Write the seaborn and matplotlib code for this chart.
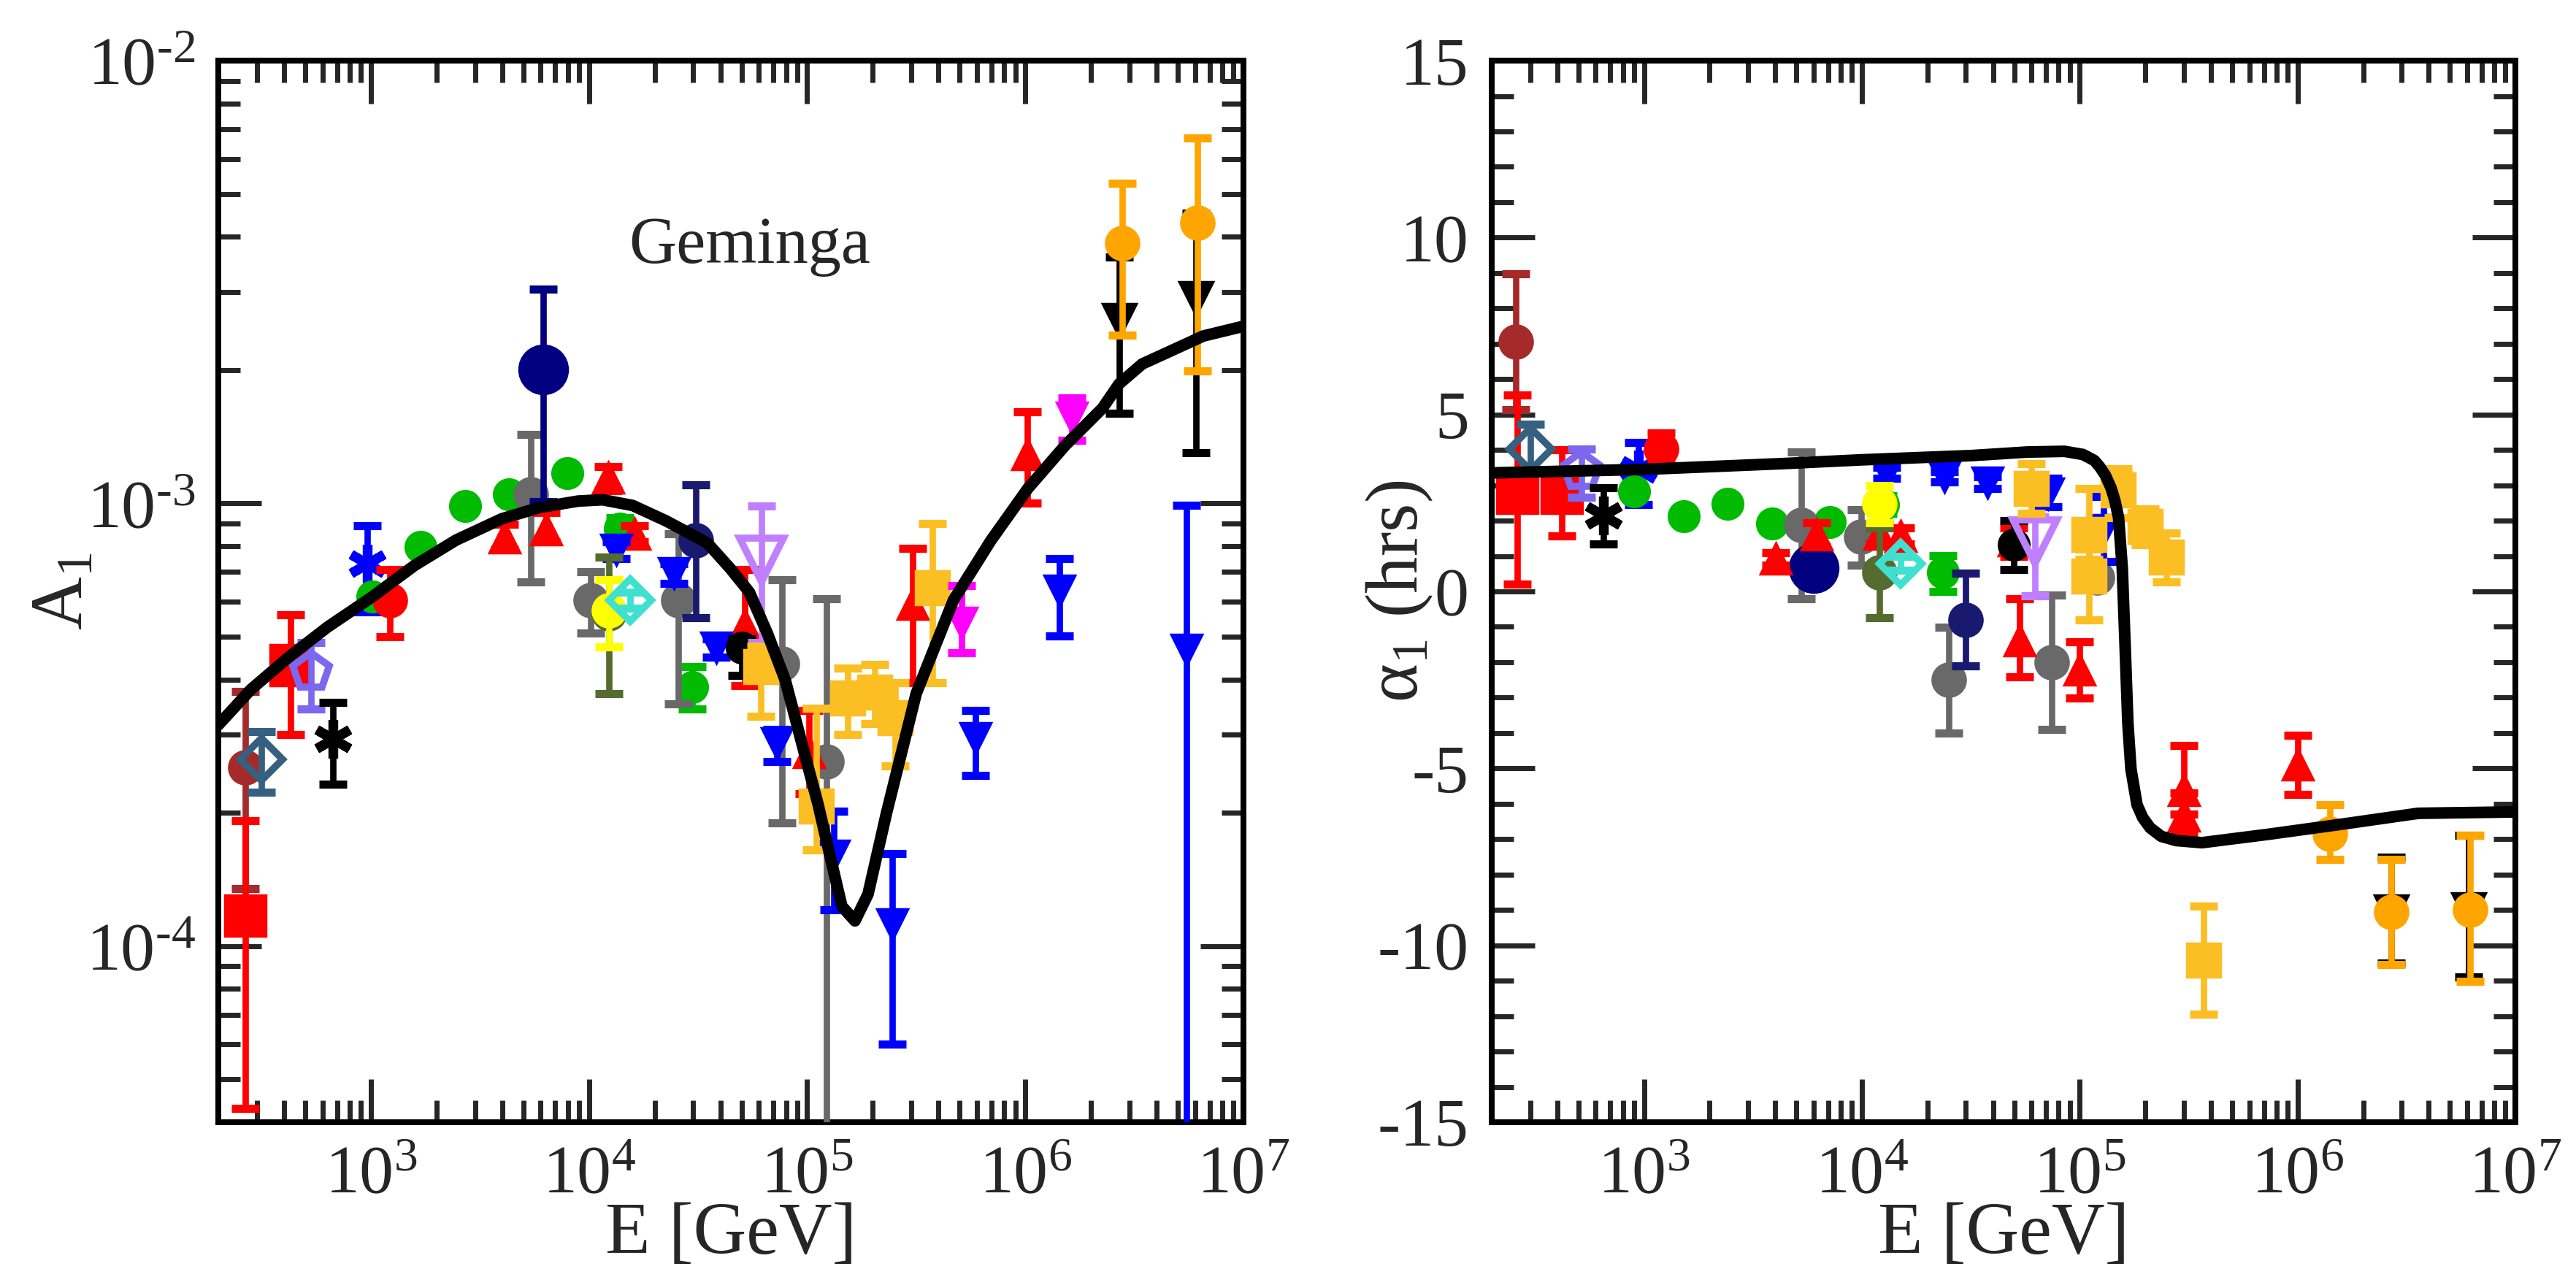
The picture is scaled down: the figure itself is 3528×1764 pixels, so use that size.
import numpy as np
import matplotlib
matplotlib.use('Agg')
import matplotlib.pyplot as plt
import seaborn as sns
from matplotlib.ticker import LogLocator, FuncFormatter, MultipleLocator, NullFormatter

# ---------------- model curves ----------------
curveA_E = [200, 282, 419, 631, 1014, 1585, 2455, 3981, 5943, 8913, 11530, 15850,
            22440, 28180, 34910, 44360, 54330, 65770, 79430, 97270, 112200, 123300,
            144200, 165600, 190100, 231200, 316200, 468800, 695000, 1.028e6, 1.524e6,
            2.259e6, 2.692e6, 3.436e6, 4.446e6, 6.546e6, 1e7]
curveA = [3.16e-4, 3.80e-4, 4.49e-4, 5.25e-4, 6.15e-4, 7.24e-4, 8.26e-4, 9.23e-4,
          9.79e-4, 1.012e-3, 1.019e-3, 9.89e-4, 9.14e-4, 8.61e-4, 8.13e-4, 7.13e-4,
          6.30e-4, 5.08e-4, 3.98e-4, 2.72e-4, 2.09e-4, 1.71e-4, 1.23e-4, 1.14e-4,
          1.31e-4, 2.00e-4, 3.72e-4, 6.05e-4, 8.24e-4, 1.081e-3, 1.352e-3, 1.641e-3,
          1.862e-3, 2.065e-3, 2.188e-3, 2.388e-3, 2.512e-3]

curveP_E = [200, 1000, 4227, 10000, 31840, 57410, 85110, 103500, 116700, 123600,
            131200, 139300, 144900, 150700, 156700, 161100, 166300, 171800, 183200,
            194500, 210400, 236600, 277300, 363900, 739600, 1.626e6, 3.573e6, 1e7]
curveP = [3.35, 3.45, 3.61, 3.72, 3.84, 3.94, 3.96, 3.87, 3.70, 3.52, 3.28, 2.92,
          2.57, 2.09, 0.67, -1.35, -3.72, -5.02, -6.03, -6.39, -6.68, -6.92, -7.04,
          -7.10, -6.86, -6.57, -6.27, -6.23]

# ---------------- data, left panel: A1 (value, lower end, upper end) ----------------
brownA_E, brownA, brownA_lo, brownA_hi = [265], [2.53e-4], [1.35e-4], [3.76e-4]
redsqA_E = [265, 428]
redsqA = [1.17e-4, 4.31e-4]
redsqA_lo = [4.3e-5, 3.0e-4]
redsqA_hi = [1.92e-4, 5.6e-4]
steelA_E, steelA, steelA_lo, steelA_hi = [314], [2.64e-4], [2.23e-4], [3.05e-4]
pentA_E, pentA, pentA_lo, pentA_hi = [532], [4.16e-4], [3.43e-4], [4.84e-4]
kastA_E, kastA, kastA_lo, kastA_hi = [670], [2.94e-4], [2.32e-4], [3.55e-4]
bastA_E, bastA, bastA_lo, bastA_hi = [964], [7.32e-4], [5.69e-4], [8.9e-4]
redcA_E, redcA, redcA_lo, redcA_hi = [1225], [6.05e-4], [5.0e-4], [7.1e-4]
greenA_E = [1014, 1686, 2704, 4303, 7960, 13870, 29650]
greenA = [6.15e-4, 7.96e-4, 9.87e-4, 1.047e-3, 1.17e-3, 8.77e-4, 3.84e-4]
greenA_lo = [6.15e-4, 7.96e-4, 9.87e-4, 1.047e-3, 1.17e-3, 8.2e-4, 3.43e-4]
greenA_hi = [6.15e-4, 7.96e-4, 9.87e-4, 1.047e-3, 1.17e-3, 9.3e-4, 4.27e-4]
redtriA_E = [4085, 6350, 12270, 16100, 51900, 102000, 305000, 1.02e6]
redtriA = [8.37e-4, 8.73e-4, 1.145e-3, 8.55e-4, 5.32e-4, 2.74e-4, 5.93e-4, 1.29e-3]
redtriA_lo = [7.85e-4, 8.18e-4, 1.067e-3, 8.2e-4, 3.88e-4, 2.21e-4, 3.94e-4, 1.0e-3]
redtriA_hi = [8.96e-4, 9.55e-4, 1.21e-3, 8.9e-4, 7.1e-4, 3.41e-4, 7.92e-4, 1.61e-3]
bluetriA_E = [13300, 24500, 38400, 72400, 133000, 245000, 589000, 1.43e6, 5.5e6]
bluetriA = [7.85e-4, 6.95e-4, 4.72e-4, 2.87e-4, 1.60e-4, 1.12e-4, 2.95e-4, 6.35e-4, 4.66e-4]
bluetriA_lo = [7.5e-4, 6.6e-4, 4.5e-4, 2.61e-4, 1.21e-4, 6.0e-5, 2.43e-4, 5.02e-4, 1e-5]
bluetriA_hi = [8.2e-4, 7.3e-4, 4.95e-4, 3.09e-4, 2.02e-4, 1.62e-4, 3.41e-4, 7.5e-4, 9.9e-4]
navyA_E, navyA, navyA_lo, navyA_hi = [6150], [2.01e-3], [1.01e-3], [3.05e-3]
grayA_E = [5400, 10190, 25600, 76700, 123000]
grayA = [1.05e-3, 6.05e-4, 6.05e-4, 4.34e-4, 2.61e-4]
grayA_lo = [6.65e-4, 5.09e-4, 3.53e-4, 1.9e-4, 1e-5]
grayA_hi = [1.43e-3, 7.0e-4, 8.55e-4, 6.73e-4, 6.1e-4]
oliveA_E, oliveA, oliveA_lo, oliveA_hi = [12330], [5.64e-4], [3.72e-4], [7.57e-4]
yellowA_E, yellowA, yellowA_lo, yellowA_hi = [12330], [5.74e-4], [4.74e-4], [6.73e-4]
turqA_E, turqA, turqA_lo, turqA_hi = [15400], [6.05e-4], [5.8e-4], [6.3e-4]
midA_E, midA, midA_lo, midA_hi = [30800], [8.26e-4], [5.52e-4], [1.1e-3]
lilacA_E, lilacA, lilacA_lo, lilacA_hi = [62000], [7.46e-4], [4.84e-4], [9.87e-4]
blkcA_E, blkcA, blkcA_lo, blkcA_hi = [50300], [4.72e-4], [4.08e-4], [4.94e-4]
goldA_E = [61400, 110000, 153600, 204000, 253000, 376000]
goldA = [4.27e-4, 2.07e-4, 3.63e-4, 3.75e-4, 3.28e-4, 6.44e-4]
goldA_lo = [3.31e-4, 1.65e-4, 3.0e-4, 3.18e-4, 2.55e-4, 3.94e-4]
goldA_hi = [4.76e-4, 3.45e-4, 4.25e-4, 4.33e-4, 3.94e-4, 9.0e-4]
magA_E = [512000, 1.63e6]
magA = [5.38e-4, 1.56e-3]
magA_lo = [4.6e-4, 1.39e-3]
magA_hi = [6.53e-4, 1.73e-3]
orangeA_E = [2.78e6, 6.17e6]
orangeA = [3.87e-3, 4.30e-3]
orangeA_lo = [2.40e-3, 1.99e-3]
orangeA_hi = [5.28e-3, 6.68e-3]
blktriA_E = [2.70e6, 6.08e6]
blktriA = [2.59e-3, 2.9e-3]
blktriA_lo = [1.6e-3, 1.3e-3]
blktriA_hi = [3.6e-3, 4.53e-3]

# ---------------- data, right panel: alpha1 in hrs ----------------
brownP_E, brownP, brownP_lo, brownP_hi = [257], [7.06], [5.14], [8.98]
redsqP_E = [261, 420]
redsqP = [2.79, 2.79]
redsqP_lo = [0.21, 1.56]
redsqP_hi = [5.56, 4.01]
steelP_E, steelP, steelP_lo, steelP_hi = [301], [4.03], [3.4], [4.72]
pentP_E, pentP, pentP_lo, pentP_hi = [515], [3.40], [2.66], [4.03]
kastP_E, kastP, kastP_lo, kastP_hi = [652], [2.14], [1.35], [2.93]
bastP_E, bastP, bastP_lo, bastP_hi = [941], [3.45], [2.45], [4.22]
redcP_E, redcP, redcP_lo, redcP_hi = [1200], [4.03], [3.6], [4.48]
greenP_E = [901, 1520, 2410, 3865, 7130, 12470, 23500]
greenP = [2.82, 2.12, 2.47, 1.91, 1.96, 2.45, 0.53]
greenP_lo = [2.82, 2.12, 2.47, 1.91, 1.96, 2.2, 0.0]
greenP_hi = [2.82, 2.12, 2.47, 1.91, 1.96, 2.7, 1.01]
redtriP_E = [4018, 6210, 11990, 15000, 49800, 53000, 100000, 300000, 300000, 1e6]
redtriP = [0.93, 1.61, 1.64, 1.56, 1.44, -1.39, -2.21, -5.62, -6.33, -4.9]
redtriP_lo = [0.75, 1.25, 1.35, 1.35, 1.0, -2.41, -3.01, -6.3, -6.92, -5.74]
redtriP_hi = [1.1, 1.95, 1.9, 1.8, 1.8, -0.2, -1.43, -4.35, -5.7, -4.07]
bluetriP_E = [12980, 24000, 37800, 71300, 129000]
bluetriP = [3.35, 3.24, 3.08, 2.77, 1.74]
bluetriP_lo = [3.2, 3.1, 2.92, 2.39, 0.85]
bluetriP_hi = [3.5, 3.38, 3.24, 3.19, 2.69]
navyP_E, navyP, navyP_lo, navyP_hi = [6030], [0.66], [0.55], [0.77]
grayP_E = [5280, 9930, 25000, 74600, 120000]
grayP = [1.87, 1.54, -2.49, -2.0, 0.40]
grayP_lo = [-0.2, 0.75, -4.0, -3.9, 0.40]
grayP_hi = [3.95, 2.32, -1.02, -0.1, 0.40]
oliveP_E, oliveP, oliveP_lo, oliveP_hi = [11990], [0.53], [-0.74], [1.8]
yellowP_E, yellowP, yellowP_lo, yellowP_hi = [11990], [2.47], [1.95], [3.0]
turqP_E, turqP, turqP_lo, turqP_hi = [15000], [0.79], [0.6], [1.0]
midP_E, midP, midP_lo, midP_hi = [30000], [-0.81], [-2.11], [0.51]
lilacP_E, lilacP, lilacP_lo, lilacP_hi = [62500], [1.4], [-0.13], [2.1]
blkcP_E, blkcP, blkcP_lo, blkcP_hi = [49800], [1.32], [0.61], [2.0]
goldP_E = [59700, 110000, 110000, 150600, 200000, 249000, 371000]
goldP = [2.92, 1.62, 0.43, 2.86, 1.83, 0.97, -10.42]
goldP_lo = [2.21, 0.9, -0.81, 2.09, 1.32, 0.26, -11.94]
goldP_hi = [3.61, 2.9, 1.2, 3.46, 2.33, 1.65, -8.9]
orangeP_E = [1.41e6, 2.69e6, 6.2e6]
orangeP = [-6.86, -9.06, -9.0]
orangeP_lo = [-7.57, -10.54, -11.01]
orangeP_hi = [-6.03, -7.57, -6.89]
blktriP_E = [2.69e6, 6.1e6]
blktriP = [-9.06, -9.0]
blktriP_lo = [-10.5, -10.9]
blktriP_hi = [-7.5, -6.9]

# ---------------- style ----------------
sns.set_style('ticks')
plt.rcParams['font.family'] = ['Liberation Serif', 'DejaVu Serif']
plt.rcParams['mathtext.fontset'] = 'custom'
plt.rcParams['mathtext.rm'] = 'Liberation Serif'
plt.rcParams['mathtext.it'] = 'Liberation Serif:italic'
plt.rcParams['axes.unicode_minus'] = False

# name: (marker, color, size, open)
styles = {
    'blktri': ('v', 'black', 13, False),
    'orange': ('o', '#FFA500', 13, False),
    'brown': ('o', '#A52A2A', 13, False),
    'redsq': ('s', '#FF0000', 16, False),
    'steel': ('D', '#35607F', 12, True),
    'pent': ('p', '#7B68EE', 15, True),
    'kast': ((6, 2, 0), 'black', 15, False),
    'bast': ((6, 2, 0), '#0000FF', 15, False),
    'green': ('o', '#00BB00', 12, False),
    'redc': ('o', '#FF0000', 13, False),
    'gray': ('o', '#696969', 13, False),
    'navy': ('o', '#000080', 19, False),
    'redtri': ('^', '#FF0000', 12, False),
    'bluetri': ('v', '#0000FF', 12, False),
    'olive': ('o', '#556B2F', 13, False),
    'yellow': ('o', '#FFFF00', 13, False),
    'turq': ('D', '#40E0D0', 12, True),
    'mid': ('o', '#191970', 13, False),
    'blkc': ('o', 'black', 12, False),
    'lilac': ('v', '#BF80FF', 17, True),
    'gold': ('s', '#FBBF24', 13, False),
    'mag': ('v', '#FF00FF', 12, False),
}

left_sets = [
    ('blktri', blktriA_E, blktriA, blktriA_lo, blktriA_hi),
    ('orange', orangeA_E, orangeA, orangeA_lo, orangeA_hi),
    ('brown', brownA_E, brownA, brownA_lo, brownA_hi),
    ('redsq', redsqA_E, redsqA, redsqA_lo, redsqA_hi),
    ('steel', steelA_E, steelA, steelA_lo, steelA_hi),
    ('pent', pentA_E, pentA, pentA_lo, pentA_hi),
    ('kast', kastA_E, kastA, kastA_lo, kastA_hi),
    ('bast', bastA_E, bastA, bastA_lo, bastA_hi),
    ('green', greenA_E, greenA, greenA_lo, greenA_hi),
    ('redc', redcA_E, redcA, redcA_lo, redcA_hi),
    ('gray', grayA_E, grayA, grayA_lo, grayA_hi),
    ('navy', navyA_E, navyA, navyA_lo, navyA_hi),
    ('redtri', redtriA_E, redtriA, redtriA_lo, redtriA_hi),
    ('bluetri', bluetriA_E, bluetriA, bluetriA_lo, bluetriA_hi),
    ('olive', oliveA_E, oliveA, oliveA_lo, oliveA_hi),
    ('yellow', yellowA_E, yellowA, yellowA_lo, yellowA_hi),
    ('turq', turqA_E, turqA, turqA_lo, turqA_hi),
    ('mid', midA_E, midA, midA_lo, midA_hi),
    ('blkc', blkcA_E, blkcA, blkcA_lo, blkcA_hi),
    ('lilac', lilacA_E, lilacA, lilacA_lo, lilacA_hi),
    ('gold', goldA_E, goldA, goldA_lo, goldA_hi),
    ('mag', magA_E, magA, magA_lo, magA_hi),
]
right_sets = [
    ('blktri', blktriP_E, blktriP, blktriP_lo, blktriP_hi),
    ('orange', orangeP_E, orangeP, orangeP_lo, orangeP_hi),
    ('brown', brownP_E, brownP, brownP_lo, brownP_hi),
    ('redsq', redsqP_E, redsqP, redsqP_lo, redsqP_hi),
    ('steel', steelP_E, steelP, steelP_lo, steelP_hi),
    ('pent', pentP_E, pentP, pentP_lo, pentP_hi),
    ('kast', kastP_E, kastP, kastP_lo, kastP_hi),
    ('bast', bastP_E, bastP, bastP_lo, bastP_hi),
    ('green', greenP_E, greenP, greenP_lo, greenP_hi),
    ('redc', redcP_E, redcP, redcP_lo, redcP_hi),
    ('gray', grayP_E, grayP, grayP_lo, grayP_hi),
    ('navy', navyP_E, navyP, navyP_lo, navyP_hi),
    ('redtri', redtriP_E, redtriP, redtriP_lo, redtriP_hi),
    ('bluetri', bluetriP_E, bluetriP, bluetriP_lo, bluetriP_hi),
    ('olive', oliveP_E, oliveP, oliveP_lo, oliveP_hi),
    ('yellow', yellowP_E, yellowP, yellowP_lo, yellowP_hi),
    ('turq', turqP_E, turqP, turqP_lo, turqP_hi),
    ('mid', midP_E, midP, midP_lo, midP_hi),
    ('blkc', blkcP_E, blkcP, blkcP_lo, blkcP_hi),
    ('lilac', lilacP_E, lilacP, lilacP_lo, lilacP_hi),
    ('gold', goldP_E, goldP, goldP_lo, goldP_hi),
]


def draw_points(ax, sets):
    for z, (name, E, y, lo, hi) in enumerate(sets):
        m, c, ms, hollow = styles[name]
        y = np.asarray(y, float)
        yerr = [y - np.asarray(lo, float), np.asarray(hi, float) - y]
        ax.errorbar(E, y, yerr=yerr, fmt='none', ecolor=c, elinewidth=2.5,
                    capsize=5.5, capthick=3.2, zorder=3 + z * 0.1)
        if isinstance(m, tuple):
            mew = 3.8
        elif hollow:
            mew = 2.8
        else:
            mew = 1.0
        ax.plot(E, y, ls='none', marker=m, ms=ms, color=c,
                mfc='none' if hollow else c, mec=c, mew=mew,
                zorder=3.05 + z * 0.1)


def style_axis(ax):
    ax.tick_params(which='major', direction='in', length=17, width=2.0,
                   top=True, right=True, labelsize=27, pad=9)
    ax.tick_params(which='minor', direction='in', length=8.5, width=2.0,
                   top=True, right=True)
    for sp in ax.spines.values():
        sp.set_linewidth(2.3)
        sp.set_color('black')


def pow_fmt(v, pos):
    k = int(round(np.log10(v)))
    s = str(abs(k)) if k >= 0 else '\u2010' + str(abs(k))
    return r'$\mathrm{10^{%s}}$' % s


fig = plt.figure(figsize=(14.112, 7.056), dpi=250)
axL = fig.add_axes([0.0848, 0.1287, 0.3979, 0.8242])
axR = fig.add_axes([0.5791, 0.1287, 0.3974, 0.8242])

# ---- left panel
axL.set_xscale('log')
axL.set_yscale('log')
draw_points(axL, left_sets)
sns.lineplot(x=curveA_E, y=curveA, ax=axL, color='black', linewidth=4.6,
             sort=False, estimator=None, legend=False, zorder=20)
axL.set_xlim(200, 1e7)
axL.set_ylim(4e-5, 1e-2)
axL.xaxis.set_major_locator(LogLocator(base=10, numticks=12))
axL.xaxis.set_minor_locator(LogLocator(base=10, subs=np.arange(2, 10), numticks=12))
axL.xaxis.set_major_formatter(FuncFormatter(pow_fmt))
axL.xaxis.set_minor_formatter(NullFormatter())
axL.yaxis.set_major_locator(LogLocator(base=10, numticks=12))
axL.yaxis.set_minor_locator(LogLocator(base=10, subs=np.arange(2, 10), numticks=12))
axL.yaxis.set_major_formatter(FuncFormatter(pow_fmt))
axL.yaxis.set_minor_formatter(NullFormatter())
style_axis(axL)
axL.set_xlabel('E [GeV]', fontsize=29, labelpad=-2)
axL.set_ylabel(r'$\mathrm{A_1}$', fontsize=29)
axL.yaxis.set_label_coords(-0.117, 0.5)
axL.text(0.518, 0.825, 'Geminga', transform=axL.transAxes, ha='center',
         va='center', fontsize=26)

# ---- right panel
axR.set_xscale('log')
draw_points(axR, right_sets)
sns.lineplot(x=curveP_E, y=curveP, ax=axR, color='black', linewidth=4.6,
             sort=False, estimator=None, legend=False, zorder=20)
axR.set_xlim(200, 1e7)
axR.set_ylim(-15, 15)
axR.xaxis.set_major_locator(LogLocator(base=10, numticks=12))
axR.xaxis.set_minor_locator(LogLocator(base=10, subs=np.arange(2, 10), numticks=12))
axR.xaxis.set_major_formatter(FuncFormatter(pow_fmt))
axR.xaxis.set_minor_formatter(NullFormatter())
axR.yaxis.set_major_locator(MultipleLocator(5))
axR.yaxis.set_minor_locator(MultipleLocator(1))
style_axis(axR)
axR.set_xlabel('E [GeV]', fontsize=29, labelpad=-2)
axR.set_ylabel(r'α$_\mathrm{1}$ (hrs)', fontsize=29)
axR.yaxis.set_label_coords(-0.056, 0.5)

fig.savefig('out.png', dpi=250)
